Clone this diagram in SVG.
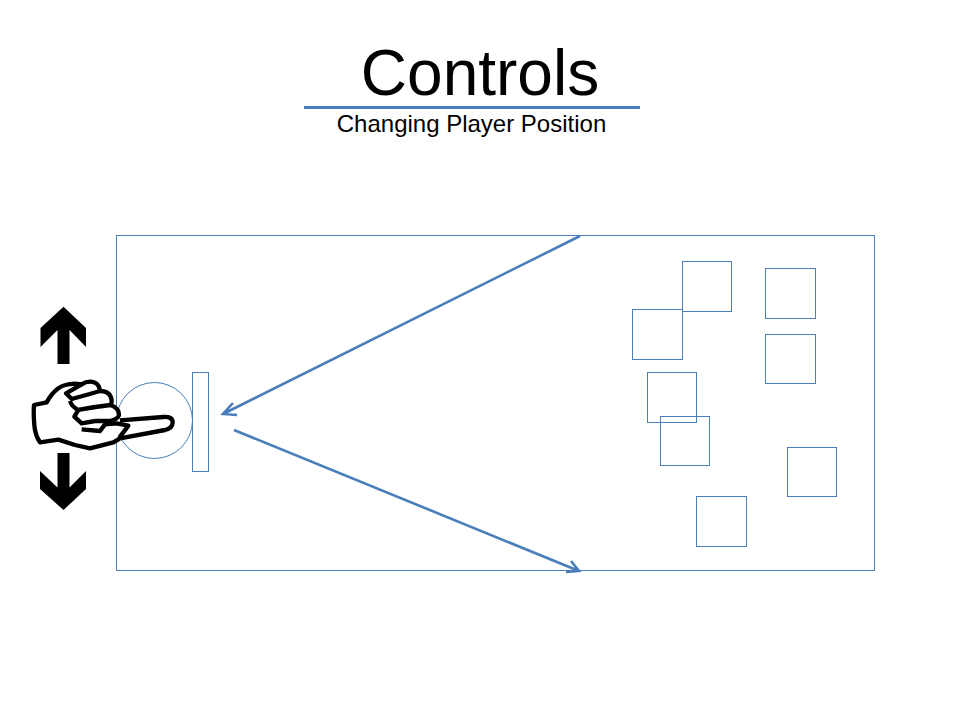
<svg xmlns="http://www.w3.org/2000/svg" width="960" height="720" viewBox="0 0 960 720">
<style>
text{font-family:"Liberation Sans",Arial,sans-serif;fill:#000}
.s{fill:none;stroke:#4a7ebb;stroke-width:1}
.c{fill:none;stroke:#4a7ebb;stroke-width:2.6}
.h{fill:none;stroke:#000;stroke-width:13;stroke-linejoin:round;stroke-linecap:butt}
</style>
<rect width="960" height="720" fill="#fff"/>
<g id="title"><text x="480" y="95" font-size="64" text-anchor="middle">Controls</text>
<line x1="304" y1="107.500" x2="640" y2="107.500" stroke="#4a7ebb" stroke-width="3"/>
<text x="471.500" y="132" font-size="24" text-anchor="middle">Changing Player Position</text></g>
<g id="field"><rect class="s" x="116.500" y="235.500" width="758" height="335"/></g>
<g id="ball"><circle class="s" cx="154.500" cy="420.500" r="38"/></g>
<g id="paddle"><rect class="s" x="192.500" y="372.500" width="16" height="99"/></g>
<g id="blocks">
<rect class="s" x="682.500" y="261.500" width="49" height="50"/>
<rect class="s" x="765.500" y="268.500" width="50" height="50"/>
<rect class="s" x="632.500" y="309.500" width="50" height="50"/>
<rect class="s" x="765.500" y="334.500" width="50" height="49"/>
<rect class="s" x="647.500" y="372.500" width="49" height="50"/>
<rect class="s" x="660.500" y="416.500" width="49" height="49"/>
<rect class="s" x="787.500" y="447.500" width="49" height="49"/>
<rect class="s" x="696.500" y="496.500" width="50" height="50"/>
</g>
<g id="connectors">
<path class="c" d="M580 236L223 414M233 403L223 414L237 415"/>
<path class="c" d="M234 430L579 571M571 561L579 571L566 572"/>
</g>
<g id="arrow-up"><polygon points="63.500,306.700 86,328 86,347 69.500,330 69.500,364 57.500,364 57.500,330 40.500,347 40.500,328" fill="#000"/></g>
<g id="arrow-down"><polygon points="57.500,453 69.500,453 69.500,487.500 86,471 86,489 63.500,510 40,489 40,471 57.500,487.500" fill="#000"/></g>
<g id="hand"><g transform="translate(20 295) scale(.33333)">
<path class="h" fill="#fff" d="M300 376L430 366Q458 364 458 382Q458 400 435 405L300 430L280 442L210 460L165 450L115 434L60 442Q45 420 43 390Q40 355 42 330L80 322Q95 295 115 280Q130 268 165 266L185 268Q205 255 225 263Q238 270 240 288Q265 288 272 305Q278 320 272 330Q298 340 297 360Q295 372 270 378L225 378" style="fill:#fff"/>
<path class="h" d="M185 268L138 295L155 312Q200 300 240 288M150 318Q155 335 175 345Q225 335 272 330M175 345L163 365L185 385L225 378M185 403L240 408L255 388L290 385L325 392L298 428"/>
</g></g>
</svg>
